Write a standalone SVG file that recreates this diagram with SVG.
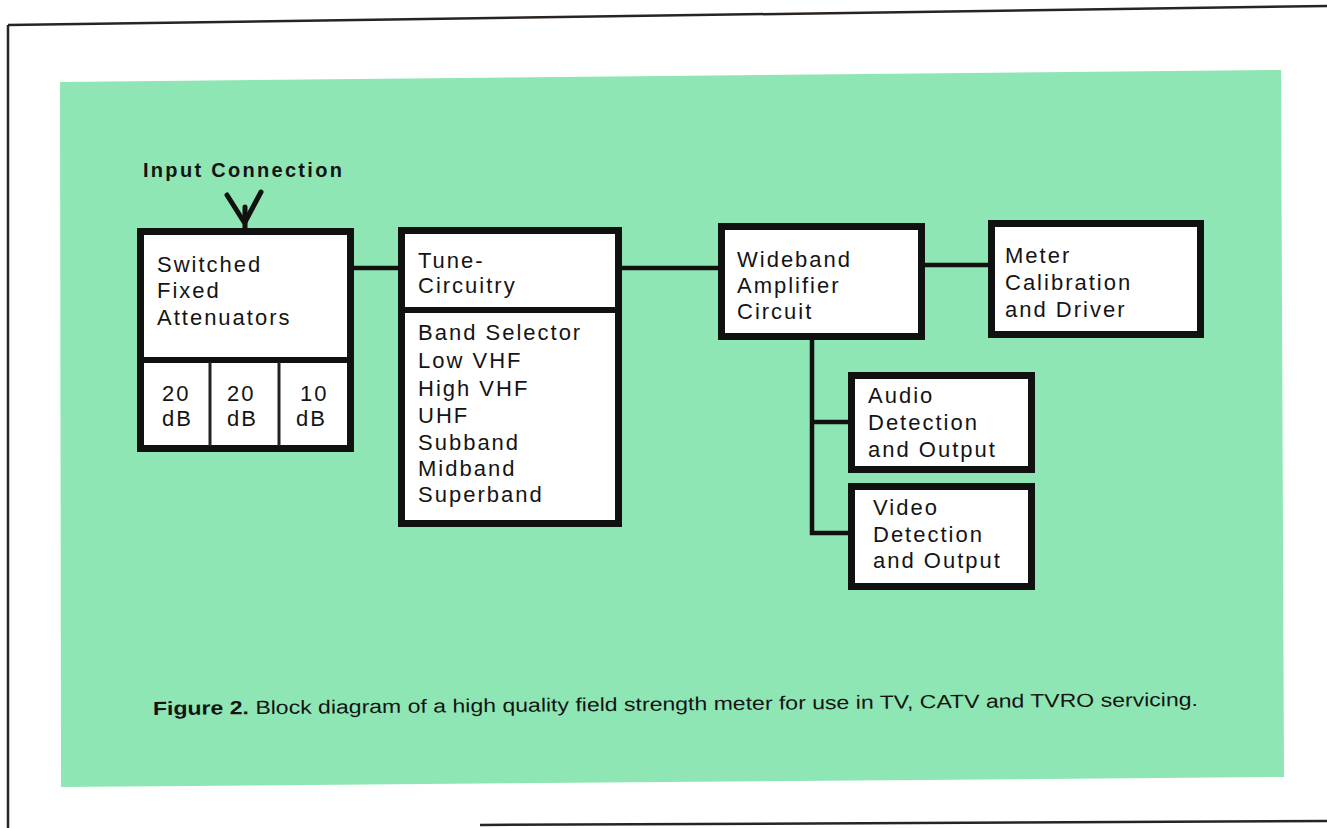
<svg xmlns="http://www.w3.org/2000/svg" width="1327" height="828" viewBox="0 0 1327 828">
<style>
.box{fill:#ffffff;stroke:#111;stroke-width:7}
.div{stroke:#111;stroke-width:6}
.sep{stroke:#222;stroke-width:3}
.wire{stroke:#111;stroke-width:4.5;fill:none}
.t{font-family:"Liberation Sans",Arial,sans-serif;font-size:22px;letter-spacing:2px;fill:#141414}
.b{font-family:"Liberation Sans",Arial,sans-serif;font-weight:bold;font-size:20px;letter-spacing:2.3px;fill:#141414}
.cap{font-family:"Liberation Sans",Arial,sans-serif;font-size:19px;fill:#141414}
</style>
<rect x="0" y="0" width="1327" height="828" fill="#ffffff"/>
<g id="frame">
<line x1="8" y1="25" x2="1327" y2="6" stroke="#2a2420" stroke-width="2.5"/>
<line x1="8" y1="25" x2="8" y2="828" stroke="#2a2420" stroke-width="2.5"/>
<line x1="480" y1="825" x2="1327" y2="821" stroke="#2a2420" stroke-width="2.5"/>
</g>
<polygon id="panel" points="60,82 1281,70 1284,777 61,787" fill="#8fe6b5"/>
<g id="connectors">
<line class="wire" x1="352" y1="268" x2="400" y2="268"/>
<line class="wire" x1="620" y1="268" x2="720" y2="268"/>
<line class="wire" x1="923" y1="265" x2="990" y2="265"/>
<polyline class="wire" points="812,338 812,533 850,533"/>
<line class="wire" x1="812" y1="422" x2="850" y2="422"/>
<g id="antenna" stroke="#111" stroke-width="5" stroke-linecap="round" fill="none">
<line x1="227" y1="195" x2="244" y2="222"/>
<line x1="261" y1="192" x2="245" y2="222"/>
<line x1="245" y1="207" x2="245" y2="229"/>
</g>
</g>
<g id="input-label"><text class="b" x="143" y="177">Input Connection</text></g>
<g id="attenuators">
<rect class="box" x="140.5" y="231.5" width="210" height="217"/>
<line class="div" x1="140" y1="360" x2="351" y2="360"/>
<line class="sep" x1="210" y1="362" x2="210" y2="446"/>
<line class="sep" x1="279" y1="362" x2="279" y2="446"/>
<text class="t" x="157" y="272">Switched</text>
<text class="t" x="157" y="298">Fixed</text>
<text class="t" x="157" y="325">Attenuators</text>
<text class="t" x="162" y="401">20</text>
<text class="t" x="162" y="426">dB</text>
<text class="t" x="227" y="401">20</text>
<text class="t" x="227" y="426">dB</text>
<text class="t" x="300" y="401">10</text>
<text class="t" x="296" y="426">dB</text>
</g>
<g id="tune">
<rect class="box" x="401.5" y="230.5" width="217" height="293"/>
<line class="div" x1="401" y1="310" x2="619" y2="310"/>
<text class="t" x="418" y="268">Tune-</text>
<text class="t" x="418" y="293">Circuitry</text>
<text class="t" x="418" y="340">Band Selector</text>
<text class="t" x="418" y="368">Low VHF</text>
<text class="t" x="418" y="396">High VHF</text>
<text class="t" x="418" y="423">UHF</text>
<text class="t" x="418" y="450">Subband</text>
<text class="t" x="418" y="476">Midband</text>
<text class="t" x="418" y="502">Superband</text>
</g>
<g id="wideband">
<rect class="box" x="721.5" y="226.5" width="200" height="110"/>
<text class="t" x="737" y="267">Wideband</text>
<text class="t" x="737" y="293">Amplifier</text>
<text class="t" x="737" y="319">Circuit</text>
</g>
<g id="meter">
<rect class="box" x="991.5" y="223.5" width="209" height="111"/>
<text class="t" x="1005" y="263">Meter</text>
<text class="t" x="1005" y="290">Calibration</text>
<text class="t" x="1005" y="317">and Driver</text>
</g>
<g id="audio">
<rect class="box" x="851.5" y="375.5" width="180" height="94"/>
<text class="t" x="868" y="403">Audio</text>
<text class="t" x="868" y="430">Detection</text>
<text class="t" x="868" y="457">and Output</text>
</g>
<g id="video">
<rect class="box" x="851.5" y="486.5" width="180" height="100"/>
<text class="t" x="873" y="515">Video</text>
<text class="t" x="873" y="542">Detection</text>
<text class="t" x="873" y="568">and Output</text>
</g>
<g id="caption">
<text class="cap" x="153" y="715" textLength="1045" lengthAdjust="spacingAndGlyphs" transform="rotate(-0.5 153 715)"><tspan font-weight="bold">Figure 2.</tspan> Block diagram of a high quality field strength meter for use in TV, CATV and TVRO servicing.</text>
</g>
</svg>
